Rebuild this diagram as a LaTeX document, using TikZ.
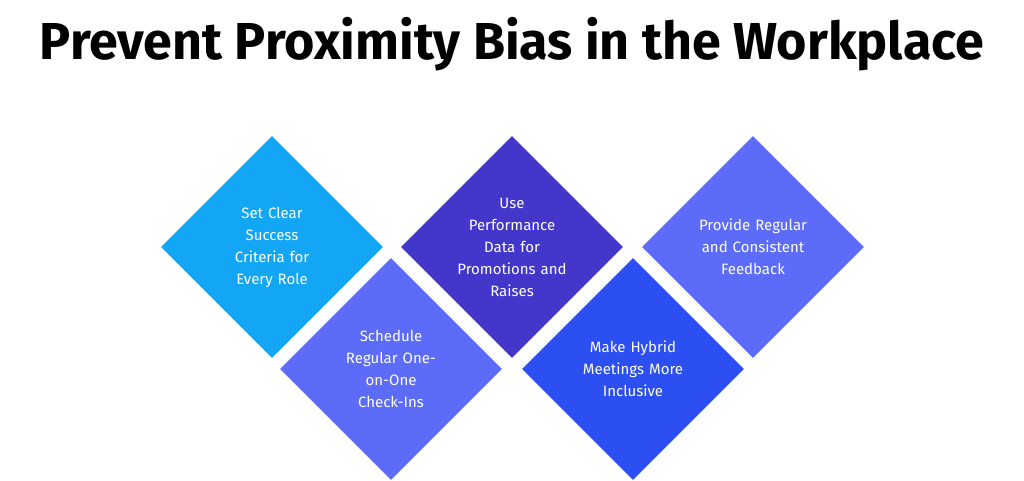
\documentclass[tikz,border=0pt]{standalone}
\usepackage{fontspec}
\setmainfont{Fira Sans}
\usetikzlibrary{shapes.geometric,positioning}
\definecolor{sky}{HTML}{12A6F4}
\definecolor{lilac}{HTML}{5C6CF8}
\definecolor{indigo}{HTML}{4337CB}
\definecolor{royal}{HTML}{2C4FF2}

\begin{document}
\begin{tikzpicture}[x=1pt,y=-1pt]

\tikzset{tile/.style={shape=diamond,draw=none,inner sep=0pt,minimum width=222pt,minimum height=222pt},
tiletext/.style={text=white,font=\fontsize{15}{22}\selectfont,align=center,text width=130pt}}

\useasboundingbox (0,0) rectangle (1024,481);

% Title
\node[font=\fontsize{52}{60}\selectfont\bfseries,anchor=base] (title) at (512,60) {Prevent Proximity Bias in the Workplace};

% Diamonds
\node[tile,fill=sky] (d1) at (272,247) {};
\node[tile,fill=lilac] (d2) at (391,369) {};
\node[tile,fill=indigo] (d3) at (512,247) {};
\node[tile,fill=royal] (d4) at (633,369) {};
\node[tile,fill=lilac] (d5) at (753,247) {};

% Labels
\node[tiletext] (t1) at (d1) {Set Clear\\Success\\Criteria for\\Every Role};
\node[tiletext] (t2) at (d2) {Schedule\\Regular One-\\on-One\\Check-Ins};
\node[tiletext] (t3) at (d3) {Use\\Performance\\Data for\\Promotions and\\Raises};
\node[tiletext] (t4) at (d4) {Make Hybrid\\Meetings More\\Inclusive};
\node[tiletext] (t5) at (d5) {Provide Regular\\and Consistent\\Feedback};

\end{tikzpicture}
\end{document}
